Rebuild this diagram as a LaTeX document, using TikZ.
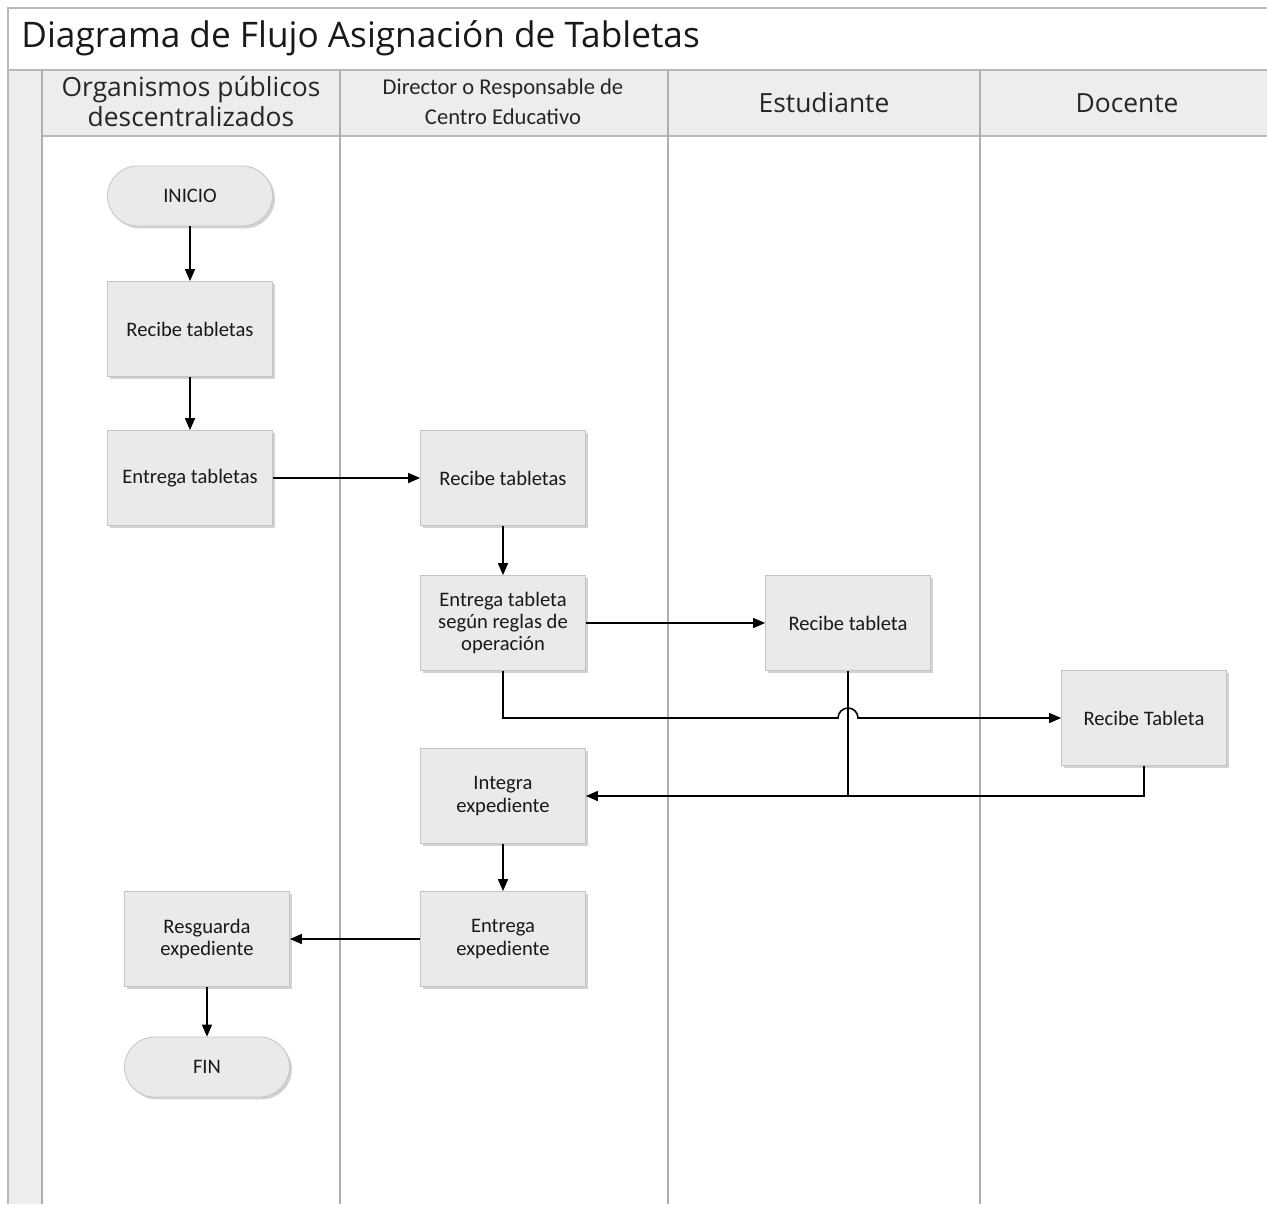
\documentclass[tikz,border=0pt]{standalone}
\usepackage{fontspec}
\setmainfont{Open Sans}
\newfontfamily\nodefont{Carlito}
\usetikzlibrary{arrows.meta,shadows,calc}
\definecolor{boxfill}{HTML}{EAEAEA}
\definecolor{boxline}{HTML}{C4C4C4}
\definecolor{laneline}{HTML}{A9B1B1}
\definecolor{headfill}{HTML}{EDEDED}
\definecolor{frameline}{HTML}{B8B8B8}
\begin{document}
\begin{tikzpicture}[x=0.5pt,y=-0.5pt,
  procbox/.style={draw=boxline, fill=boxfill, minimum width=82.5pt, minimum height=47.5pt,
    align=center, font=\nodefont\fontsize{10.3}{11.2}\selectfont, text=black!90, inner sep=2pt,
    drop shadow={opacity=0.35,shadow xshift=1.2pt,shadow yshift=-1.2pt}},
  termbox/.style={procbox, rounded corners=15pt, minimum height=30pt},
  flow/.style={draw=black, line width=0.8pt, -{Triangle[width=5pt,length=6pt]}},
  link/.style={draw=black, line width=0.8pt},
  lane/.style={draw=laneline, line width=0.8pt},
  lanehead/.style={font=\fontsize{13.2}{15}\selectfont, align=center, text=black!85},
  smallhead/.style={font=\nodefont\fontsize{11.3}{15}\selectfont, align=center, text=black!85}]

\useasboundingbox (0,0) rectangle (1267,1204);
\fill[white] (0,0) rectangle (1267,1204);

% pool frame
\fill[headfill] (42,70) rectangle (1267,136);
\fill[headfill] (8,70) rectangle (42,1204);
\draw[frameline, line width=0.8pt] (1267,8) -- (8,8) -- (8,1204);
\draw[frameline, line width=0.8pt] (8,70) -- (1267,70);
\draw[frameline, line width=0.8pt] (42,136) -- (1267,136);
\draw[lane] (42,70) -- (42,1204);
\draw[lane] (340,70) -- (340,1204);
\draw[lane] (668,70) -- (668,1204);
\draw[lane] (980,70) -- (980,1204);

% title
\node[anchor=west, font=\fontsize{17.6}{20}\selectfont, text=black!90, inner sep=0pt] (title) at (21,38) {Diagrama de Flujo Asignación de Tabletas};

% lane headers
\node[lanehead] (h1) at (191,102) {Organismos públicos\\descentralizados};
\node[smallhead] (h2) at (503,102) {Director o Responsable de\\Centro Educativo};
\node[lanehead] (h3) at (824,103) {Estudiante};
\node[lanehead] (h4) at (1127,103) {Docente};

% nodes
\node[termbox] (ini) at (190,196) {INICIO};
\node[procbox] (rt1) at (190,329) {Recibe tabletas};
\node[procbox] (et1) at (190,478) {Entrega tabletas};
\node[procbox] (rt2) at (503,478) {Recibe tabletas};
\node[procbox] (es) at (503,623) {Entrega tableta\\según reglas de\\operación};
\node[procbox] (re) at (848,623) {Recibe tableta};
\node[procbox] (rd) at (1144,718) {Recibe Tableta};
\node[procbox] (ie) at (503,796) {Integra\\expediente};
\node[procbox] (ee) at (503,939) {Entrega\\expediente};
\node[procbox] (rg) at (207,939) {Resguarda\\expediente};
\node[termbox] (fin) at (207,1067) {FIN};

% connectors
\draw[flow] (ini) -- (rt1);
\draw[flow] (rt1) -- (et1);
\draw[flow] (et1) -- (rt2);
\draw[flow] (rt2) -- (es);
\draw[flow] (es) -- (re);
\draw[flow] (es.south) |- ($(re.south |- rd.west)+(-10,0)$) arc[start angle=180,end angle=0,radius=5pt] -- (rd.west);
\draw[flow] (re.south) |- (ie.east);
\draw[link] (rd.south) |- (re.south |- ie.east);
\draw[flow] (ie) -- (ee);
\draw[flow] (ee) -- (rg);
\draw[flow] (rg) -- (fin);
\end{tikzpicture}
\end{document}
